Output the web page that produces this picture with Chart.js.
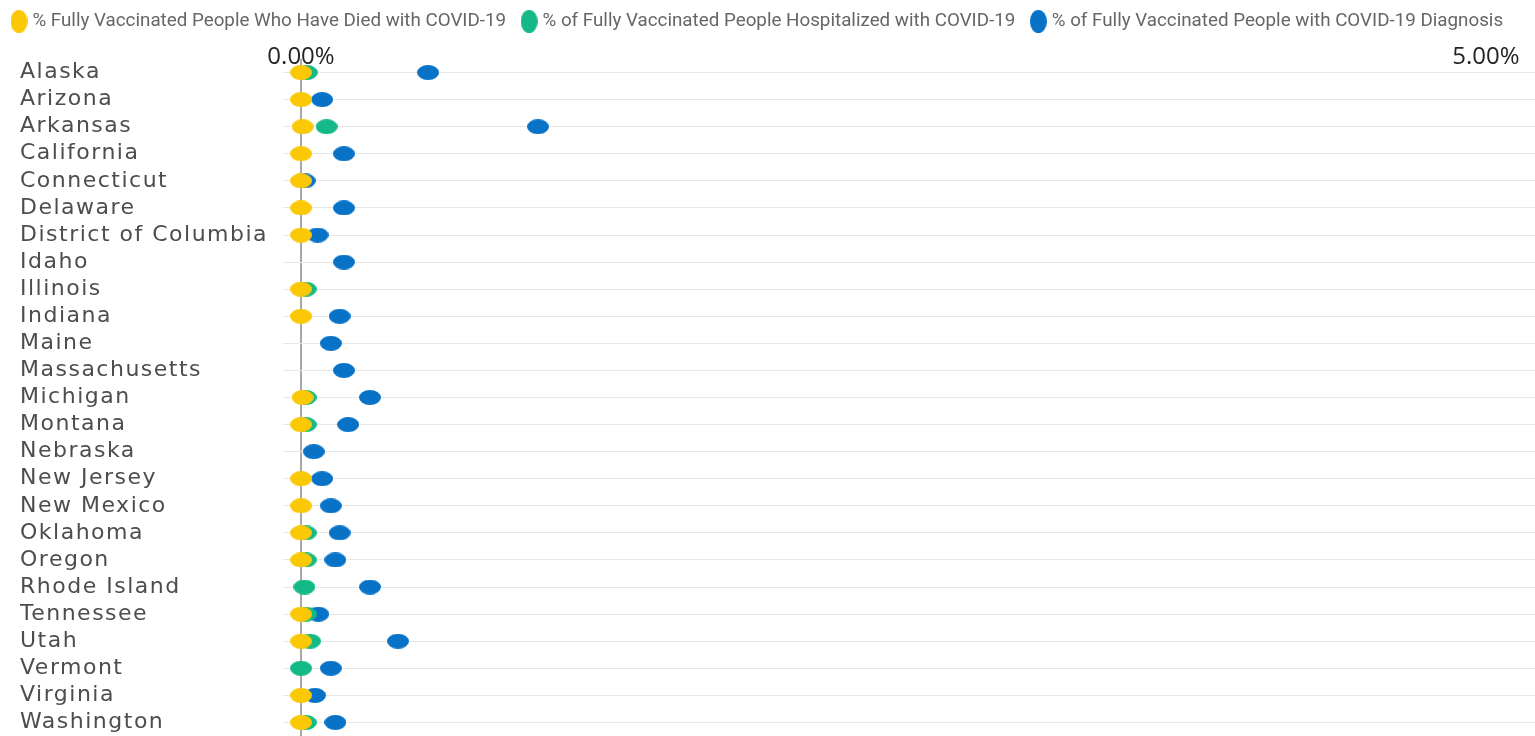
<!DOCTYPE html>
<html>
<head>
<meta charset="utf-8">
<script src="https://cdn.jsdelivr.net/npm/chart.js@4.4.1/dist/chart.umd.min.js"></script>
<style>
  html, body { margin: 0; padding: 0; background: #fff; overflow: hidden; }
  #wrap { width: 1535px; height: 736px; position: relative; }
</style>
</head>
<body>
<div id="wrap"><canvas id="chart"></canvas></div>
<script>
const states = ['Alaska', 'Arizona', 'Arkansas', 'California', 'Connecticut', 'Delaware',
  'District of Columbia', 'Idaho', 'Illinois', 'Indiana', 'Maine', 'Massachusetts', 'Michigan',
  'Montana', 'Nebraska', 'New Jersey', 'New Mexico', 'Oklahoma', 'Oregon', 'Rhode Island',
  'Tennessee', 'Utah', 'Vermont', 'Virginia', 'Washington'];

// values in percent
const died = [0, 0, 0.007, 0, 0, 0, 0, null, 0, 0, null, null, 0.007,
  0, null, 0, 0, 0, 0, null, 0, 0, null, 0, 0];
const hospitalized = [0.024, null, 0.108, null, null, null, null, null, 0.02, null, null, null, 0.02,
  0.02, null, null, null, 0.02, 0.02, 0.014, 0.02, 0.038, 0, null, 0.02];
const diagnosed = [0.536, 0.089, 1.0, 0.181, 0.016, 0.181, 0.07, 0.181, null, 0.163, 0.126, 0.181, 0.291,
  0.199, 0.054, 0.089, 0.126, 0.163, 0.145, 0.291, 0.073, 0.409, 0.126, 0.059, 0.145];

const seriesNames = [
  '% Fully Vaccinated People Who Have Died with COVID-19',
  '% of Fully Vaccinated People Hospitalized with COVID-19',
  '% of Fully Vaccinated People with COVID-19 Diagnosis'
];
const xTicks = [0, 5];

const yellow = '#FBC805';
const green = '#14B987';
const blue = '#0872C7';

function ellipse(color, w, h) {
  const c = document.createElement('canvas');
  c.width = w;
  c.height = h;
  const g = c.getContext('2d');
  g.fillStyle = color;
  g.beginPath();
  g.ellipse(w / 2, h / 2, w / 2, h / 2, 0, 0, Math.PI * 2);
  g.fill();
  return c;
}

const dots = [ellipse(yellow, 22, 15), ellipse(green, 22, 15), ellipse(blue, 22, 15)];
const legendDots = [ellipse(yellow, 17, 23), ellipse(green, 17, 23), ellipse(blue, 17, 23)];

// category axis whose labels are drawn a bit wider and inset from the left edge
class WideLabelScale extends Chart.CategoryScale {
  drawLabels(area) {
    const c = this.ctx;
    c.save();
    c.translate(24, 0);
    c.letterSpacing = '1.5px';
    super.drawLabels(area);
    c.restore();
  }
}
WideLabelScale.id = 'wideLabels';
WideLabelScale.defaults = Chart.CategoryScale.defaults;

// value axis on top whose labels may hang down into the plot
class TopValueScale extends Chart.LinearScale {
  _computeLabelArea() { return undefined; }
}
TopValueScale.id = 'topValue';
TopValueScale.defaults = Chart.LinearScale.defaults;

Chart.register(WideLabelScale, TopValueScale);

function makeSet(i, values) {
  return {
    label: seriesNames[i],
    data: values,
    showLine: false,
    pointStyle: dots[i],
    pointRadius: 11,
    backgroundColor: [yellow, green, blue][i],
    borderColor: [yellow, green, blue][i]
  };
}

const ctx = document.getElementById('chart').getContext('2d');
const chart = new Chart(ctx, {
  type: 'line',
  data: {
    labels: states,
    datasets: [makeSet(0, died), makeSet(1, hospitalized), makeSet(2, diagnosed)]
  },
  options: {
    indexAxis: 'y',
    responsive: true,
    maintainAspectRatio: false,
    animation: false,
    events: [],
    layout: { autoPadding: false, padding: { top: -7, left: -4, right: 0, bottom: 0 } },
    plugins: {
      tooltip: { enabled: false },
      legend: {
        position: 'top',
        align: 'start',
        labels: {
          usePointStyle: true,
          pointStyleWidth: 8,
          padding: 19,
          color: '#666666',
          font: { family: 'Roboto', size: 18.8 },
          generateLabels: c => Chart.defaults.plugins.legend.labels.generateLabels(c)
            .map((item, i) => Object.assign(item, { pointStyle: legendDots[i] }))
        }
      }
    },
    scales: {
      x: {
        type: 'topValue',
        position: 'top',
        min: -0.076,
        max: 5.207,
        afterBuildTicks: s => { s.ticks = xTicks.map(v => ({ value: v })); },
        afterFit: s => {
          s.height = 18.2;
          s.paddingLeft = 0;
          s.paddingRight = 0;
        },
        ticks: {
          padding: -10.5,
          autoSkip: false,
          maxRotation: 0,
          color: '#252423',
          font: { family: 'Open Sans', size: 24, lineHeight: 1 },
          callback: v => v.toFixed(2) + '%'
        },
        grid: {
          drawTicks: false,
          lineWidth: 2,
          color: c => (c.tick && c.tick.value === 0) ? '#a8a8a8' : 'rgba(0,0,0,0)'
        },
        border: { display: false }
      },
      y: {
        type: 'wideLabels',
        offset: true,
        afterFit: s => {
          s.width = 287;
          s.paddingTop = 0;
          s.paddingBottom = 0;
        },
        ticks: {
          crossAlign: 'far',
          autoSkip: false,
          padding: 0,
          color: '#4d4d4d',
          font: { family: 'DejaVu Sans', size: 22 }
        },
        grid: { offset: false, drawTicks: false, color: '#e6e6e6', lineWidth: 1 },
        border: { display: false }
      }
    }
  }
});
</script>
</body>
</html>
